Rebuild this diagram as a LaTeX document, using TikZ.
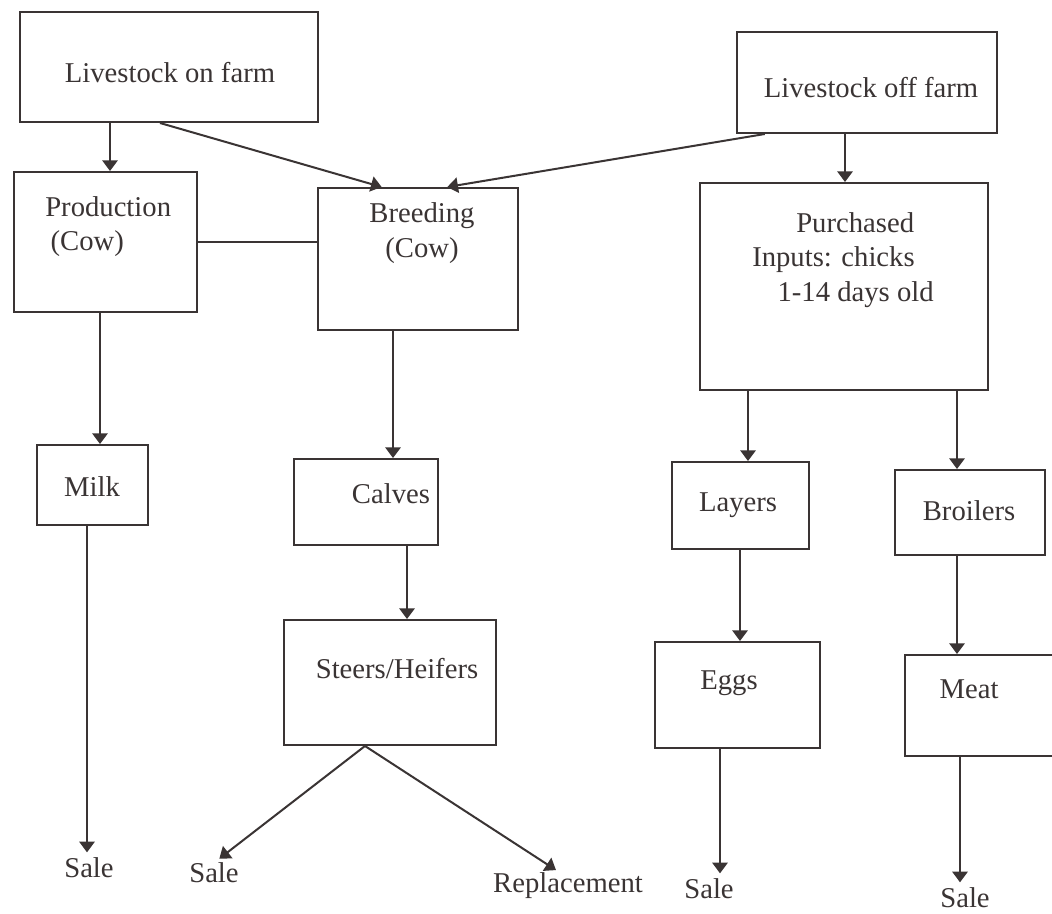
\documentclass[tikz,border=0pt]{standalone}
\usepackage{fontspec}
\setmainfont{Liberation Serif}
\usetikzlibrary{arrows.meta,calc,fit}
\definecolor{ink}{HTML}{3A3434}
\begin{document}
\begin{tikzpicture}[x=0.75pt,y=-0.75pt,
  box/.style={draw=ink,line width=1.5pt,inner sep=0pt,rectangle},
  txt/.style={text=ink,inner sep=0pt,font=\fontsize{21.5}{26}\selectfont},
  arr/.style={draw=ink,line width=1.5pt,-{Triangle[width=11.5pt,length=8pt]}},
  link/.style={draw=ink,line width=1.5pt}]
\clip (0,0) rectangle (1052,913);
\fill[white] (0,0) rectangle (1052,913);

% boxes
\node[box,fit={(20,12) (318,122)}] (farm) {};
\node[box,fit={(737,32) (997,133)}] (off) {};
\node[box,fit={(14,172) (197,312)}] (prod) {};
\node[box,fit={(318,188) (518,330)}] (breed) {};
\node[box,fit={(700,183) (988,390)}] (purch) {};
\node[box,fit={(37,445) (148,525)}] (milk) {};
\node[box,fit={(294,459) (438,545)}] (calves) {};
\node[box,fit={(284,620) (496,745)}] (steers) {};
\node[box,fit={(672,462) (809,549)}] (layers) {};
\node[box,fit={(895,470) (1045,555)}] (broil) {};
\node[box,fit={(655,642) (820,748)}] (eggs) {};
\node[box,fit={(905,655) (1075,756)}] (meat) {};

% box texts
\node[txt] (farmT) at (170,73) {Livestock on farm};
\node[txt] (offT) at (871,88) {Livestock off farm};
\node[txt,align=left,anchor=north west] (prodT) at (45,196) {Production\\\hspace*{4pt}(Cow)};
\node[txt,align=center] (breedT) at (422,233) {Breeding\\(Cow)};
\node[txt,align=left,anchor=north west] (purchT) at (752,212)
  {\hspace*{33pt}Purchased\\Inputs: chicks\\\hspace*{19pt}1-14 days old};
\node[txt] (milkT) at (92,487) {Milk};
\node[txt] (calvesT) at (391,494) {Calves};
\node[txt] (steersT) at (397,669) {Steers/Heifers};
\node[txt] (layersT) at (738,505) {Layers};
\node[txt] (broilT) at (969,511) {Broilers};
\node[txt] (eggsT) at (729,683) {Eggs};
\node[txt] (meatT) at (969,689) {Meat};

% end labels
\node[txt] (sale1) at (89,868) {Sale};
\node[txt] (sale2) at (214,873) {Sale};
\node[txt] (repl) at (568,886) {Replacement};
\node[txt] (sale4) at (709,889) {Sale};
\node[txt] (sale5) at (965,898) {Sale};

% vertical connector columns
\coordinate (kA) at (110,0);
\coordinate (kB) at (845,0);
\coordinate (kC) at (100,0);
\coordinate (kD) at (87,0);
\coordinate (kE) at (393,0);
\coordinate (kF) at (407,0);
\coordinate (kG) at (748,0);
\coordinate (kH) at (957,0);
\coordinate (kI) at (740,0);
\coordinate (kJ) at (720,0);
\coordinate (kK) at (960,0);
\coordinate (kS) at (365,0);

% connectors
\draw[arr] (farm.south -| kA) -- (prod.north -| kA);
\draw[arr] ($(farm.south west)!0.47!(farm.south east)$) -- ($(breed.north west)!0.32!(breed.north east)$);
\draw[arr] ($(off.south west)!0.11!(off.south east)$) -- ($(breed.north west)!0.645!(breed.north east)$);
\draw[arr] (off.south -| kB) -- (purch.north -| kB);
\draw[link] (prod.east) -- (prod.east -| breed.west);
\draw[arr] (prod.south -| kC) -- (milk.north -| kC);
\draw[arr] (milk.south -| kD) -- ([yshift=4pt]sale1.north -| kD);
\draw[arr] (breed.south -| kE) -- (calves.north -| kE);
\draw[arr] (calves.south -| kF) -- (steers.north -| kF);
\draw[arr] (steers.south -| kS) -- ([xshift=4pt,yshift=3pt]sale2.north);
\draw[arr] (steers.south -| kS) -- ([yshift=2pt]$(repl.north west)!0.42!(repl.north east)$);
\draw[arr] (purch.south -| kG) -- (layers.north -| kG);
\draw[arr] (purch.south -| kH) -- (broil.north -| kH);
\draw[arr] (layers.south -| kI) -- (eggs.north -| kI);
\draw[arr] (broil.south -| kH) -- (meat.north -| kH);
\draw[arr] (eggs.south -| kJ) -- ([yshift=4pt]sale4.north -| kJ);
\draw[arr] (meat.south -| kK) -- ([yshift=4pt]sale5.north -| kK);
\end{tikzpicture}
\end{document}
